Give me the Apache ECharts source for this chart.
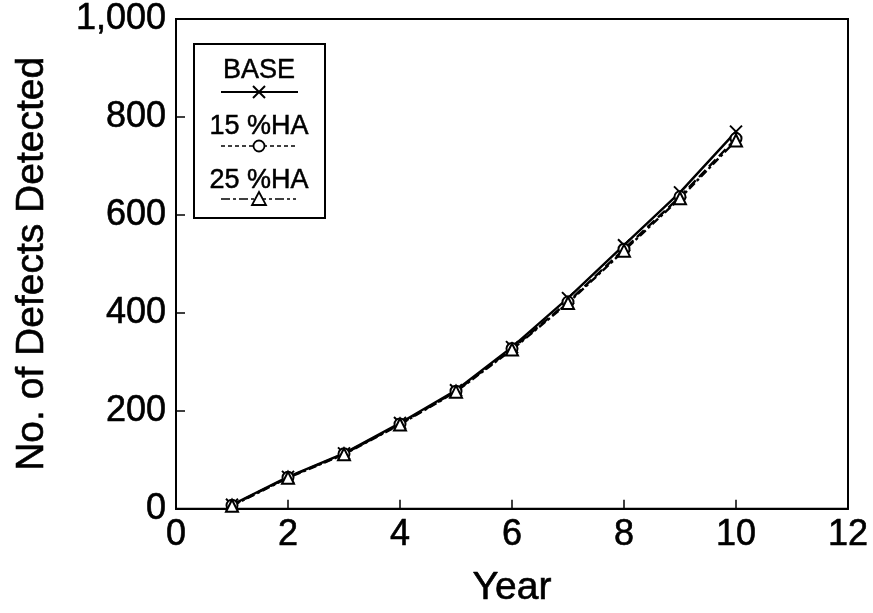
<!DOCTYPE html>
<html>
<head>
<meta charset="utf-8">
<script src="https://cdn.jsdelivr.net/npm/echarts@6/dist/echarts.min.js"></script>
<style>
  html, body { margin: 0; padding: 0; background: #fff; }
  #chart { width: 873px; height: 613px; }
</style>
</head>
<body>
<div id="chart"></div>
<script>
// Cumulative defects detected per year for three scenarios
var years = [1, 2, 3, 4, 5, 6, 7, 8, 9, 10];
var baseDefects = [8, 65, 113, 175, 242, 330, 430, 538, 646, 770];
var ha15Defects = [7, 64, 112, 173, 240, 327, 422, 530, 637, 756];
var ha25Defects = [6, 63, 111, 172, 239, 325, 420, 527, 634, 752];
var seriesNames = ['BASE', '15 %HA', '25 %HA'];

var FONT = '"Liberation Sans", Arial, Helvetica, sans-serif';
var crossPath = 'path://M0,0L10,10M10,0L0,10';

// slight outline thickens the glyphs a little, like the heavy print type
var heavy = { textBorderColor: '#000', textBorderWidth: 0.6 };

function pairs(ys) {
  return years.map(function (x, i) { return [x, ys[i]]; });
}

function lineSeries(name, ys, lineType, symbol, size) {
  return {
    name: name,
    type: 'line',
    data: pairs(ys),
    symbol: symbol,
    symbolSize: size,
    showSymbol: true,
    lineStyle: { color: '#000', width: 2.4, type: lineType },
    itemStyle: { color: '#000', borderColor: '#000', borderWidth: 2 },
    emphasis: { disabled: true },
    z: 3
  };
}

var chart = echarts.init(document.getElementById('chart'), null, { renderer: 'canvas' });

function legendText(y, label) {
  return { type: 'text', x: 259, y: y, z: 11,
    style: { text: label, font: '27px ' + FONT, fill: '#000', stroke: '#000', lineWidth: 0.5,
      align: 'center', verticalAlign: 'middle' } };
}

// Legend box drawn by hand: label above a short line sample with its marker
var legendGraphic = [
  { type: 'rect', shape: { x: 194, y: 44, width: 131, height: 174 },
    style: { fill: '#fff', stroke: '#000', lineWidth: 2 }, z: 10 },
  legendText(71, seriesNames[0]),
  { type: 'line', shape: { x1: 221, y1: 92, x2: 298, y2: 92 },
    style: { stroke: '#000', lineWidth: 2 }, z: 11 },
  { type: 'line', shape: { x1: 253, y1: 86, x2: 265, y2: 98 },
    style: { stroke: '#000', lineWidth: 2 }, z: 12 },
  { type: 'line', shape: { x1: 265, y1: 86, x2: 253, y2: 98 },
    style: { stroke: '#000', lineWidth: 2 }, z: 12 },

  legendText(127, seriesNames[1]),
  { type: 'line', shape: { x1: 221, y1: 146, x2: 296, y2: 146 },
    style: { stroke: '#000', lineWidth: 1.6, lineDash: [4, 3] }, z: 11 },
  { type: 'circle', shape: { cx: 259, cy: 146, r: 5.5 },
    style: { fill: '#fff', stroke: '#000', lineWidth: 1.8 }, z: 12 },

  legendText(181, seriesNames[2]),
  { type: 'line', shape: { x1: 221, y1: 199, x2: 296, y2: 199 },
    style: { stroke: '#000', lineWidth: 1.6, lineDash: [9, 3, 3, 3] }, z: 11 },
  { type: 'polygon', shape: { points: [[259, 192], [266, 205], [252, 205]] },
    style: { fill: '#fff', stroke: '#000', lineWidth: 1.8 }, z: 12 }
];

chart.setOption({
  animation: false,
  backgroundColor: '#fff',
  grid: {
    left: 176, right: 25, top: 19, bottom: 104,
    show: true, borderColor: '#000', borderWidth: 2, backgroundColor: 'transparent'
  },
  xAxis: {
    type: 'value',
    min: 0, max: 12, interval: 2,
    name: 'Year',
    nameLocation: 'middle',
    nameGap: 60,
    nameTextStyle: Object.assign({ fontFamily: FONT, fontSize: 39, color: '#000' }, heavy),
    axisLine: { show: true, lineStyle: { color: '#000', width: 2 } },
    axisTick: { show: true, inside: true, length: 9, lineStyle: { color: '#000', width: 1.5 } },
    axisLabel: Object.assign({ fontFamily: FONT, fontSize: 36, color: '#000', margin: 8 }, heavy),
    splitLine: { show: false }
  },
  yAxis: {
    type: 'value',
    min: 0, max: 1000, interval: 200,
    name: 'No. of Defects Detected',
    nameLocation: 'middle',
    nameGap: 124,
    nameRotate: 90,
    nameTextStyle: Object.assign({ fontFamily: FONT, fontSize: 39, color: '#000' }, heavy),
    axisLine: { show: true, lineStyle: { color: '#000', width: 2 } },
    axisTick: { show: true, inside: true, length: 9, lineStyle: { color: '#000', width: 1.5 } },
    axisLabel: Object.assign({
      fontFamily: FONT, fontSize: 36, color: '#000', margin: 10,
      formatter: function (v) { return v.toLocaleString('en-US'); }
    }, heavy),
    splitLine: { show: false }
  },
  series: [
    lineSeries(seriesNames[0], baseDefects, 'solid', crossPath, 12),
    lineSeries(seriesNames[1], ha15Defects, 'dashed', 'emptyCircle', 11),
    lineSeries(seriesNames[2], ha25Defects, [8, 3, 3, 3], 'emptyTriangle', 12)
  ],
  graphic: legendGraphic
});
</script>
</body>
</html>
